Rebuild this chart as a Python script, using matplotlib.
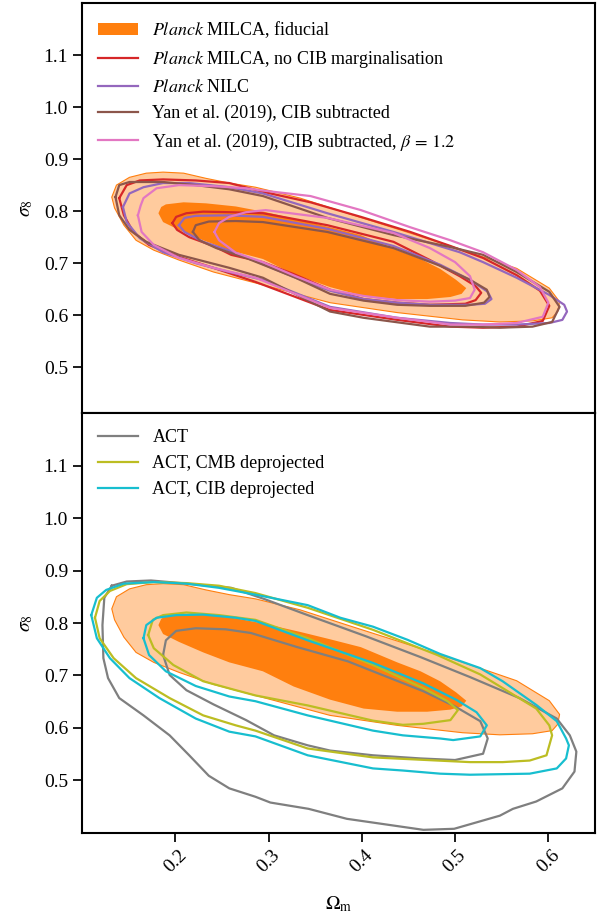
import matplotlib
matplotlib.use("Agg")
import matplotlib.pyplot as plt
import numpy as np

# contour vertices (Omega_m, sigma_8), 68% and 95% levels
FID_68 = [(0.182, 0.796), (0.185, 0.808), (0.190, 0.813), (0.209, 0.817), (0.233, 0.815),
          (0.265, 0.809), (0.297, 0.798), (0.334, 0.783), (0.366, 0.769), (0.399, 0.754),
          (0.438, 0.725), (0.463, 0.708), (0.484, 0.689), (0.501, 0.668), (0.512, 0.652),
          (0.507, 0.641), (0.495, 0.635), (0.470, 0.631), (0.438, 0.631), (0.402, 0.637),
          (0.366, 0.654), (0.327, 0.679), (0.294, 0.708), (0.258, 0.725), (0.230, 0.744),
          (0.204, 0.764), (0.187, 0.779)]
FID_95 = [(0.132, 0.827), (0.137, 0.850), (0.151, 0.865), (0.169, 0.873), (0.187, 0.875),
          (0.209, 0.873), (0.233, 0.863), (0.258, 0.854), (0.286, 0.846), (0.334, 0.825),
          (0.388, 0.794), (0.441, 0.764), (0.495, 0.733), (0.530, 0.712), (0.566, 0.690),
          (0.601, 0.652), (0.612, 0.626), (0.610, 0.607), (0.604, 0.595), (0.583, 0.589),
          (0.548, 0.587), (0.508, 0.591), (0.438, 0.605), (0.366, 0.624), (0.286, 0.662),
          (0.241, 0.683), (0.204, 0.706), (0.177, 0.725), (0.158, 0.744), (0.145, 0.773),
          (0.135, 0.806)]

NOCIB_68 = [(0.197, 0.777), (0.201, 0.789), (0.212, 0.796), (0.230, 0.799), (0.258, 0.798),
            (0.294, 0.796), (0.363, 0.773), (0.434, 0.741), (0.473, 0.706), (0.505, 0.675),
            (0.522, 0.656), (0.528, 0.643), (0.522, 0.629), (0.511, 0.622), (0.473, 0.620),
            (0.438, 0.624), (0.402, 0.631), (0.366, 0.649), (0.327, 0.679), (0.294, 0.702),
            (0.260, 0.716), (0.241, 0.733), (0.215, 0.750), (0.202, 0.764)]
NOCIB_95 = [(0.140, 0.825), (0.148, 0.850), (0.162, 0.859), (0.187, 0.861), (0.222, 0.859),
            (0.258, 0.854), (0.292, 0.838), (0.345, 0.817), (0.399, 0.789), (0.452, 0.760),
            (0.495, 0.733), (0.530, 0.710), (0.566, 0.677), (0.591, 0.647), (0.601, 0.618),
            (0.594, 0.589), (0.566, 0.578), (0.530, 0.576), (0.495, 0.578), (0.438, 0.591),
            (0.366, 0.610), (0.286, 0.664), (0.241, 0.691), (0.204, 0.712), (0.172, 0.735),
            (0.155, 0.760), (0.145, 0.792)]

NILC_68 = [(0.204, 0.773), (0.210, 0.787), (0.222, 0.791), (0.258, 0.792), (0.294, 0.789),
           (0.363, 0.766), (0.434, 0.733), (0.484, 0.697), (0.516, 0.668), (0.535, 0.645),
           (0.539, 0.631), (0.532, 0.622), (0.516, 0.620), (0.473, 0.620), (0.438, 0.624),
           (0.402, 0.631), (0.366, 0.647), (0.329, 0.672), (0.294, 0.698), (0.265, 0.720),
           (0.230, 0.741), (0.210, 0.760)]
NILC_95 = [(0.144, 0.808), (0.151, 0.834), (0.166, 0.846), (0.187, 0.854), (0.215, 0.854),
           (0.258, 0.846), (0.294, 0.834), (0.363, 0.796), (0.434, 0.760), (0.505, 0.721),
           (0.530, 0.702), (0.566, 0.672), (0.601, 0.639), (0.617, 0.620), (0.620, 0.607),
           (0.615, 0.591), (0.601, 0.585), (0.566, 0.582), (0.530, 0.582), (0.495, 0.585),
           (0.438, 0.595), (0.366, 0.616), (0.294, 0.668), (0.258, 0.683), (0.222, 0.700),
           (0.187, 0.721), (0.162, 0.748), (0.148, 0.779)]

YAN_68 = [(0.219, 0.760), (0.222, 0.773), (0.236, 0.780), (0.265, 0.781), (0.294, 0.779),
          (0.363, 0.760), (0.434, 0.729), (0.484, 0.695), (0.516, 0.668), (0.534, 0.649),
          (0.537, 0.635), (0.531, 0.624), (0.511, 0.618), (0.473, 0.618), (0.438, 0.620),
          (0.402, 0.628), (0.366, 0.641), (0.329, 0.672), (0.297, 0.695), (0.276, 0.710),
          (0.244, 0.729), (0.226, 0.744)]
YAN_95 = [(0.136, 0.827), (0.140, 0.850), (0.151, 0.856), (0.187, 0.856), (0.222, 0.850),
          (0.258, 0.842), (0.294, 0.829), (0.363, 0.787), (0.434, 0.754), (0.495, 0.731),
          (0.530, 0.716), (0.566, 0.683), (0.601, 0.645), (0.612, 0.616), (0.604, 0.587),
          (0.583, 0.578), (0.548, 0.576), (0.513, 0.578), (0.473, 0.578), (0.402, 0.595),
          (0.366, 0.607), (0.294, 0.672), (0.258, 0.691), (0.204, 0.716), (0.169, 0.741),
          (0.151, 0.764), (0.140, 0.792)]

YANB_68 = [(0.242, 0.760), (0.247, 0.777), (0.258, 0.789), (0.276, 0.798), (0.297, 0.802),
           (0.363, 0.787), (0.434, 0.758), (0.473, 0.729), (0.500, 0.702), (0.516, 0.675),
           (0.521, 0.649), (0.516, 0.633), (0.500, 0.628), (0.473, 0.626), (0.438, 0.629),
           (0.402, 0.637), (0.366, 0.649), (0.329, 0.675), (0.294, 0.702), (0.265, 0.720),
           (0.247, 0.744)]
YANB_95 = [(0.160, 0.792), (0.163, 0.811), (0.166, 0.825), (0.180, 0.844), (0.204, 0.850),
           (0.241, 0.848), (0.276, 0.844), (0.292, 0.840), (0.345, 0.829), (0.399, 0.802),
           (0.452, 0.769), (0.495, 0.744), (0.530, 0.721), (0.566, 0.687), (0.591, 0.654),
           (0.600, 0.624), (0.594, 0.597), (0.566, 0.585), (0.530, 0.582), (0.495, 0.582),
           (0.438, 0.595), (0.366, 0.614), (0.286, 0.672), (0.241, 0.691), (0.204, 0.710),
           (0.177, 0.735), (0.164, 0.760)]

ACT_68 = [(0.187, 0.739), (0.190, 0.767), (0.201, 0.785), (0.222, 0.790), (0.254, 0.788),
          (0.281, 0.781), (0.331, 0.754), (0.385, 0.727), (0.412, 0.708), (0.466, 0.670),
          (0.500, 0.641), (0.527, 0.613), (0.535, 0.580), (0.530, 0.551), (0.500, 0.539),
          (0.463, 0.542), (0.412, 0.548), (0.366, 0.557), (0.342, 0.567), (0.306, 0.586),
          (0.276, 0.615), (0.241, 0.645), (0.212, 0.672), (0.194, 0.701)]
ACT_95 = [(0.132, 0.871), (0.148, 0.879), (0.174, 0.881), (0.206, 0.876), (0.260, 0.867),
          (0.295, 0.846), (0.342, 0.815), (0.404, 0.775), (0.463, 0.735), (0.516, 0.697),
          (0.569, 0.657), (0.609, 0.618), (0.623, 0.586), (0.630, 0.555), (0.628, 0.517),
          (0.615, 0.485), (0.587, 0.460), (0.562, 0.446), (0.548, 0.433), (0.499, 0.408),
          (0.466, 0.406), (0.384, 0.427), (0.343, 0.446), (0.302, 0.458), (0.286, 0.469),
          (0.258, 0.485), (0.236, 0.509), (0.215, 0.548), (0.194, 0.586), (0.166, 0.624),
          (0.140, 0.657), (0.128, 0.695), (0.123, 0.733), (0.122, 0.796), (0.124, 0.848)]

ACT_CMB_68 = [(0.171, 0.777), (0.176, 0.806), (0.187, 0.815), (0.212, 0.820), (0.247, 0.815),
              (0.286, 0.806), (0.342, 0.771), (0.412, 0.720), (0.466, 0.676), (0.492, 0.651),
              (0.503, 0.634), (0.495, 0.615), (0.466, 0.608), (0.444, 0.606), (0.412, 0.614),
              (0.342, 0.643), (0.286, 0.662), (0.265, 0.672), (0.230, 0.689), (0.198, 0.720),
              (0.177, 0.752)]
ACT_CMB_95 = [(0.114, 0.810), (0.119, 0.842), (0.130, 0.861), (0.148, 0.874), (0.177, 0.878),
              (0.212, 0.876), (0.247, 0.871), (0.286, 0.857), (0.342, 0.829), (0.412, 0.787),
              (0.481, 0.739), (0.527, 0.702), (0.551, 0.676), (0.587, 0.637), (0.601, 0.605),
              (0.604, 0.586), (0.598, 0.548), (0.580, 0.538), (0.551, 0.535), (0.516, 0.535),
              (0.481, 0.538), (0.412, 0.544), (0.342, 0.561), (0.286, 0.595), (0.265, 0.605),
              (0.230, 0.624), (0.194, 0.657), (0.158, 0.695), (0.134, 0.733), (0.119, 0.771)]

ACT_CIB_68 = [(0.166, 0.771), (0.169, 0.796), (0.180, 0.810), (0.201, 0.815), (0.230, 0.816),
              (0.265, 0.810), (0.286, 0.804), (0.342, 0.767), (0.412, 0.724), (0.466, 0.685),
              (0.502, 0.653), (0.523, 0.630), (0.534, 0.605), (0.527, 0.584), (0.498, 0.577),
              (0.484, 0.580), (0.444, 0.586), (0.412, 0.595), (0.342, 0.624), (0.286, 0.651),
              (0.258, 0.660), (0.222, 0.680), (0.190, 0.708), (0.172, 0.739)]
ACT_CIB_95 = [(0.110, 0.815), (0.116, 0.848), (0.126, 0.863), (0.145, 0.875), (0.177, 0.878),
              (0.212, 0.875), (0.247, 0.867), (0.286, 0.854), (0.342, 0.834), (0.377, 0.810),
              (0.412, 0.793), (0.449, 0.768), (0.484, 0.741), (0.527, 0.714), (0.551, 0.689),
              (0.587, 0.644), (0.609, 0.613), (0.619, 0.580), (0.622, 0.567), (0.619, 0.542),
              (0.609, 0.523), (0.580, 0.513), (0.516, 0.511), (0.484, 0.513), (0.444, 0.519),
              (0.412, 0.523), (0.342, 0.548), (0.286, 0.584), (0.258, 0.593), (0.222, 0.618),
              (0.183, 0.657), (0.151, 0.695), (0.130, 0.733), (0.116, 0.771)]

TOP_RUNS = [
    (r"$\mathit{Planck}$ MILCA, no CIB marginalisation", "#d62728", NOCIB_68, NOCIB_95),
    (r"$\mathit{Planck}$ NILC", "#9467bd", NILC_68, NILC_95),
    ("Yan et al. (2019), CIB subtracted", "#8c564b", YAN_68, YAN_95),
    (r"Yan et al. (2019), CIB subtracted, $\beta\,=\,1.2$", "#e377c2", YANB_68, YANB_95),
]
BOTTOM_RUNS = [
    ("ACT", "#7f7f7f", ACT_68, ACT_95),
    ("ACT, CMB deprojected", "#bcbd22", ACT_CMB_68, ACT_CMB_95),
    ("ACT, CIB deprojected", "#17becf", ACT_CIB_68, ACT_CIB_95),
]

plt.rcParams["font.family"] = "serif"
plt.rcParams["font.serif"] = ["Liberation Serif", "DejaVu Serif"]
plt.rcParams["mathtext.fontset"] = "stix"
plt.rcParams["font.size"] = 13
plt.rcParams["axes.linewidth"] = 1.5


def closed(pts):
    a = np.array(pts + pts[:1])
    return a[:, 0], a[:, 1]


def draw_fiducial(ax):
    x, y = closed(FID_95)
    ax.fill(x, y, color="#ffcb9e", ec="#ff7f0e", lw=0.8, zorder=1)
    x, y = closed(FID_68)
    ax.fill(x, y, color="#ff7f0e", lw=0, zorder=2,
            label=r"$\mathit{Planck}$ MILCA, fiducial")


def draw_runs(ax, runs):
    for label, col, c68, c95 in runs:
        x, y = closed(c95)
        ax.plot(x, y, color=col, lw=1.6, solid_joinstyle="round", zorder=3, label=label)
        x, y = closed(c68)
        ax.plot(x, y, color=col, lw=1.6, solid_joinstyle="round", zorder=3)


fig = plt.figure(figsize=(5.98, 9.18), dpi=100)
ax_top = fig.add_axes([0.137, 0.5501, 0.858, 0.4466])
ax_bot = fig.add_axes([0.137, 0.0926, 0.858, 0.4575])

draw_fiducial(ax_top)
draw_runs(ax_top, TOP_RUNS)
ax_top.set_ylim(0.412, 1.2)
ax_top.legend(loc="upper left", frameon=False, fontsize=13, handlelength=2.2)

draw_runs(ax_bot, BOTTOM_RUNS)
draw_fiducial(ax_bot)
h, l = ax_bot.get_legend_handles_labels()
ax_bot.legend(h[:3], l[:3], loc="upper left", frameon=False, fontsize=13, handlelength=2.2)
ax_bot.set_ylim(0.4, 1.2)

for ax in (ax_top, ax_bot):
    ax.set_xlim(0.1, 0.65)
    ax.set_yticks([0.5, 0.6, 0.7, 0.8, 0.9, 1.0, 1.1])
    ax.set_ylabel(r"$\sigma_8$", fontsize=14, labelpad=6)
    ax.tick_params(direction="out", length=6.5, width=1.25, labelsize=14,
                   top=False, right=False)

ax_top.tick_params(axis="x", bottom=False, labelbottom=False)
ax_bot.set_xticks([0.2, 0.3, 0.4, 0.5, 0.6])
plt.setp(ax_bot.get_xticklabels(), rotation=45)
ax_bot.set_xlabel(r"$\Omega_{\rm m}$", fontsize=14, labelpad=13)

fig.savefig("out.png", dpi=100)
